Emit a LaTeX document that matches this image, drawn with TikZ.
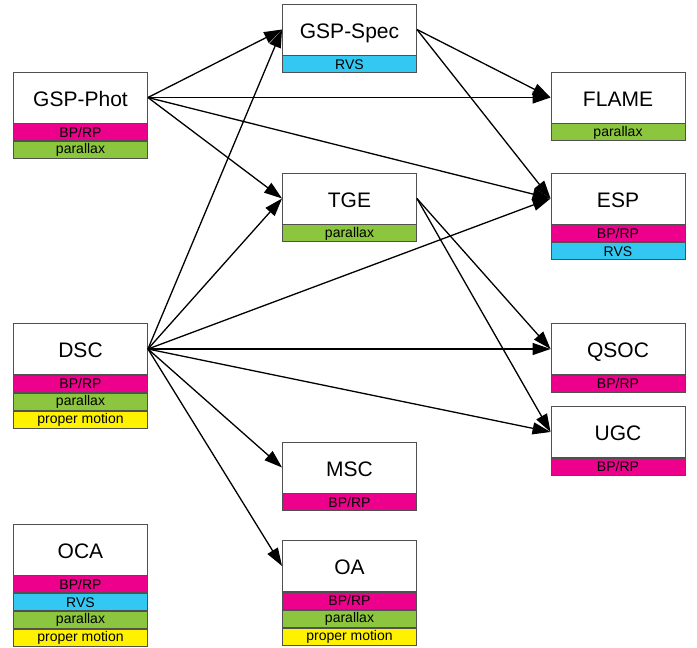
\documentclass[tikz,border=0pt]{standalone}
\usepackage{fontspec}
\setmainfont{Liberation Sans}
\usetikzlibrary{arrows.meta,positioning}
\definecolor{bprp}{HTML}{EC008C}
\definecolor{plx}{HTML}{8CC63F}
\definecolor{rvs}{HTML}{33C8F2}
\definecolor{pm}{HTML}{FFF200}
\definecolor{edge}{HTML}{505050}
\tikzset{
  mainbox/.style={draw=edge, line width=0.9pt, fill=white, minimum width=134pt, minimum height=51pt, inner sep=0pt, text height=17pt, text depth=0pt, font=\fontsize{21}{24}\selectfont},
  stripbox/.style={draw=edge, line width=0.9pt, minimum width=134pt, minimum height=17pt, inner sep=0pt, font=\fontsize{14}{16}\selectfont, below=0pt of #1},
  conn/.style={line width=1.3pt, -{Triangle[length=18pt,width=12pt]}}
}
\begin{document}
\begin{tikzpicture}[x=1pt,y=-1pt]
\useasboundingbox (0,0) rectangle (697,648);
% column A
\node[mainbox] (gphot) at (80.5,97.5) {GSP-Phot};
\node[stripbox=gphot, fill=bprp] (gphot1) {BP/RP};
\node[stripbox=gphot1, fill=plx] (gphot2) {parallax};

\node[mainbox] (dsc) at (80.5,349) {DSC};
\node[stripbox=dsc, fill=bprp] (dsc1) {BP/RP};
\node[stripbox=dsc1, fill=plx] (dsc2) {parallax};
\node[stripbox=dsc2, fill=pm] (dsc3) {proper motion};

\node[mainbox] (oca) at (80.5,549.5) {OCA};
\node[stripbox=oca, fill=bprp] (oca1) {BP/RP};
\node[stripbox=oca1, fill=rvs] (oca2) {RVS};
\node[stripbox=oca2, fill=plx] (oca3) {parallax};
\node[stripbox=oca3, fill=pm] (oca4) {proper motion};

% column B
\node[mainbox] (gspec) at (349.5,29.5) {GSP-Spec};
\node[stripbox=gspec, fill=rvs] (gspec1) {RVS};

\node[mainbox] (tge) at (349.5,198.5) {TGE};
\node[stripbox=tge, fill=plx] (tge1) {parallax};

\node[mainbox] (msc) at (349.5,467.5) {MSC};
\node[stripbox=msc, fill=bprp] (msc1) {BP/RP};

\node[mainbox] (oa) at (349.5,566) {OA};
\node[stripbox=oa, fill=bprp] (oa1) {BP/RP};
\node[stripbox=oa1, fill=plx] (oa2) {parallax};
\node[stripbox=oa2, fill=pm] (oa3) {proper motion};

% column C
\node[mainbox] (flame) at (618,97.5) {FLAME};
\node[stripbox=flame, fill=plx] (flame1) {parallax};

\node[mainbox] (esp) at (618,198.5) {ESP};
\node[stripbox=esp, fill=bprp] (esp1) {BP/RP};
\node[stripbox=esp1, fill=rvs] (esp2) {RVS};

\node[mainbox] (qsoc) at (618,349) {QSOC};
\node[stripbox=qsoc, fill=bprp] (qsoc1) {BP/RP};

\node[mainbox] (ugc) at (618,432) {UGC};
\node[stripbox=ugc, fill=bprp] (ugc1) {BP/RP};

% connectors
\foreach \t in {gspec,tge} \draw[conn] (gphot.east) -- (\t.west);
\foreach \t in {flame,esp} \draw[conn] (gphot.east) -- (\t.west);
\foreach \t in {flame,esp} \draw[conn] (gspec.east) -- (\t.west);
\foreach \t in {qsoc,ugc} \draw[conn] (tge.east) -- (\t.west);
\foreach \t in {gspec,tge,msc,oa,esp,qsoc,ugc} \draw[conn] (dsc.east) -- (\t.west);
\end{tikzpicture}
\end{document}
